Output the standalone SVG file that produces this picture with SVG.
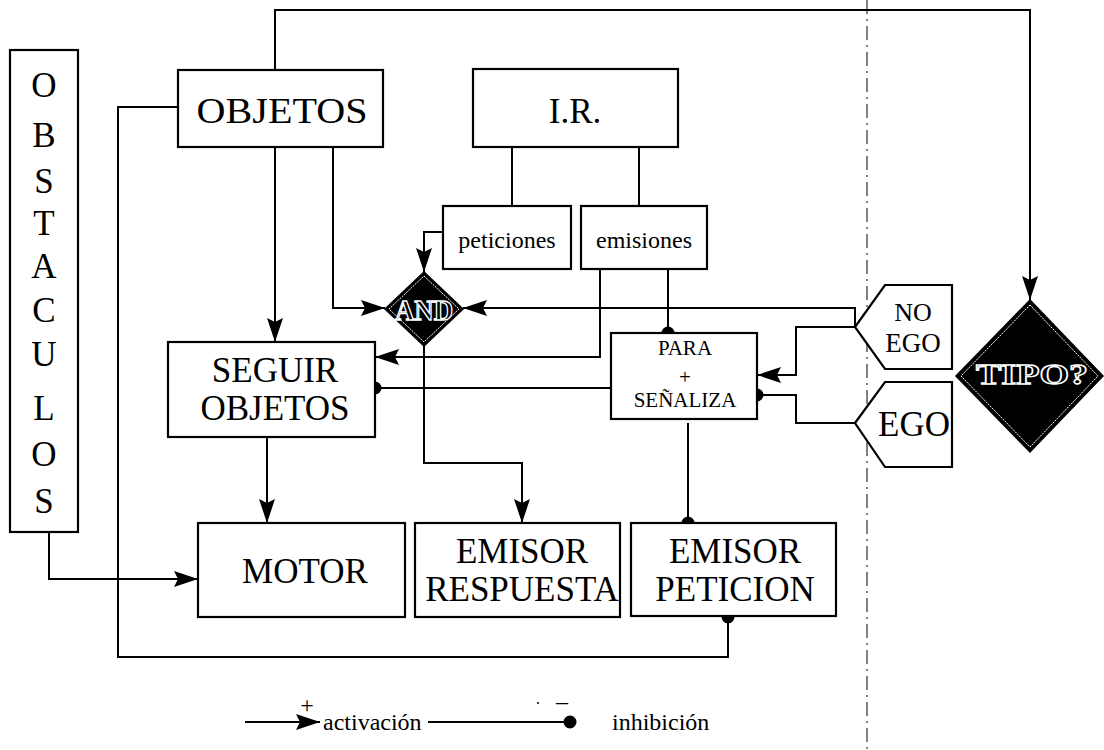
<svg xmlns="http://www.w3.org/2000/svg" width="1104" height="750" viewBox="0 0 1104 750" font-family="'Liberation Serif', 'Times New Roman', serif">
<defs>
<marker id="arr" markerWidth="24" markerHeight="16" refX="24" refY="8" orient="auto" markerUnits="userSpaceOnUse"><path d="M0,0 L24,8 L0,16 L4,8 Z" fill="#000"/></marker>
<marker id="dot" markerWidth="14" markerHeight="14" refX="7" refY="7" orient="auto" markerUnits="userSpaceOnUse"><circle cx="7" cy="7" r="6.5" fill="#000"/></marker>
</defs>
<style>
.box{fill:#fff;stroke:#000;stroke-width:2.2}
.ln{fill:none;stroke:#000;stroke-width:2}
text{font-family:'Liberation Serif','Times New Roman',serif}
.t{fill:#000;text-anchor:middle}
.big{font-size:35px}
.mid{font-size:24px}
.sm{font-size:21px}
.dia{fill:#000;stroke:#000;stroke-width:1.5}
.dia2{fill:none;stroke:#fff;stroke-width:1;stroke-dasharray:2 1}
.out{fill:#000;stroke:#fff;stroke-width:1.4;text-anchor:middle;font-weight:bold}
</style>
<rect width="1104" height="750" fill="#fff"/>
<line x1="867" y1="0" x2="867" y2="750" stroke="#000" stroke-width="1" stroke-dasharray="14 5 2 5"/>
<g id="connectors">
<path class="ln" d="M275,70 V10 H1030 V300" marker-end="url(#arr)"/>
<path class="ln" d="M178,107 H118 V657 H728 V617" marker-end="url(#dot)"/>
<path class="ln" d="M275,147 V342" marker-end="url(#arr)"/>
<path class="ln" d="M333,147 V308 H385" marker-end="url(#arr)"/>
<path class="ln" d="M512,147 V206"/>
<path class="ln" d="M639,147 V206"/>
<path class="ln" d="M443,232 H424 V272" marker-end="url(#arr)"/>
<path class="ln" d="M855,327 V308 H463" marker-end="url(#arr)"/>
<path class="ln" d="M855,327 H796 V375 H757" marker-end="url(#arr)"/>
<path class="ln" d="M855,423 H796 V395 H757" marker-end="url(#dot)"/>
<path class="ln" d="M668,269 V333" marker-end="url(#dot)"/>
<path class="ln" d="M600,269 V357 H375" marker-end="url(#arr)"/>
<path class="ln" d="M611,388 H375" marker-end="url(#dot)"/>
<path class="ln" d="M424,346 V463 H522 V523" marker-end="url(#arr)"/>
<path class="ln" d="M688,423 V523" marker-end="url(#dot)"/>
<path class="ln" d="M267,437 V523" marker-end="url(#arr)"/>
<path class="ln" d="M49,532 V579 H198" marker-end="url(#arr)"/>
</g>
<g id="obstaculos">
<rect class="box" x="10" y="50" width="68" height="482"/>
<g class="t big">
<text x="44" y="97">O</text><text x="44" y="147">B</text><text x="44" y="193">S</text><text x="44" y="235">T</text><text x="44" y="278">A</text><text x="44" y="322">C</text><text x="44" y="366">U</text><text x="44" y="420">L</text><text x="44" y="466">O</text><text x="44" y="513">S</text>
</g>
</g>
<g id="objetos"><rect class="box" x="178" y="70" width="205" height="77"/><text class="t big" x="282" y="123" textLength="171" lengthAdjust="spacingAndGlyphs">OBJETOS</text></g>
<g id="ir"><rect class="box" x="473" y="69" width="205" height="78"/><text class="t big" x="575" y="123">I.R.</text></g>
<g id="peticiones"><rect class="box" x="443" y="206" width="128" height="63"/><text class="t mid" x="507" y="248">peticiones</text></g>
<g id="emisiones"><rect class="box" x="581" y="206" width="126" height="63"/><text class="t mid" x="644" y="248">emisiones</text></g>
<g id="and"><path class="dia" d="M424,272 L463,309 L424,346 L385,309 Z"/><path class="dia2" d="M424,276 L459,309 L424,342 L389,309 Z"/><text class="out" x="424" y="320" font-size="30" textLength="58" lengthAdjust="spacingAndGlyphs">AND</text></g>
<g id="seguir"><rect class="box" x="168" y="342" width="207" height="95"/><text class="t big" x="275" y="382">SEGUIR</text><text class="t big" x="275" y="420">OBJETOS</text></g>
<g id="para"><rect class="box" x="611" y="333" width="146" height="86"/><text class="t sm" x="685" y="355">PARA</text><text class="t sm" x="685" y="384">+</text><text class="t sm" x="685" y="407">SEÑALIZA</text></g>
<g id="noego"><path class="box" d="M855,327 L885,285 L952,285 L952,369 L885,369 Z"/><text class="t" font-size="26" x="913" y="321">NO</text><text class="t" font-size="27" x="913" y="352">EGO</text></g>
<g id="ego"><path class="box" d="M855,423 L885,382 L952,382 L952,467 L885,467 Z"/><text class="t big" x="914" y="436">EGO</text></g>
<g id="tipo"><path class="dia" d="M1030,300 L1103,376 L1030,452 L956,376 Z"/><path class="dia2" d="M1030,305 L1098,376 L1030,447 L961,376 Z"/><text class="out" x="1032" y="384" font-size="30" textLength="112" lengthAdjust="spacingAndGlyphs">TIPO?</text></g>
<g id="motor"><rect class="box" x="198" y="523" width="207" height="94"/><text class="t big" x="305" y="583">MOTOR</text></g>
<g id="emisor_respuesta"><rect class="box" x="415" y="523" width="205" height="94"/><text class="t big" x="522" y="563">EMISOR</text><text class="t big" x="522" y="601">RESPUESTA</text></g>
<g id="emisor_peticion"><rect class="box" x="631" y="523" width="205" height="93"/><text class="t big" x="735" y="563">EMISOR</text><text class="t big" x="735" y="601">PETICION</text></g>
<g id="legend">
<path class="ln" d="M245,722 H320" marker-end="url(#arr)"/>
<text class="t mid" x="307" y="713">+</text>
<text class="t mid" x="323" y="730" style="text-anchor:start">activación</text>
<path class="ln" d="M428,722 H570" marker-end="url(#dot)"/>
<circle cx="538" cy="703" r="1" fill="#000"/>
<text class="t mid" x="562" y="709">–</text>
<text class="t mid" x="612" y="730" style="text-anchor:start">inhibición</text>
</g>
</svg>
